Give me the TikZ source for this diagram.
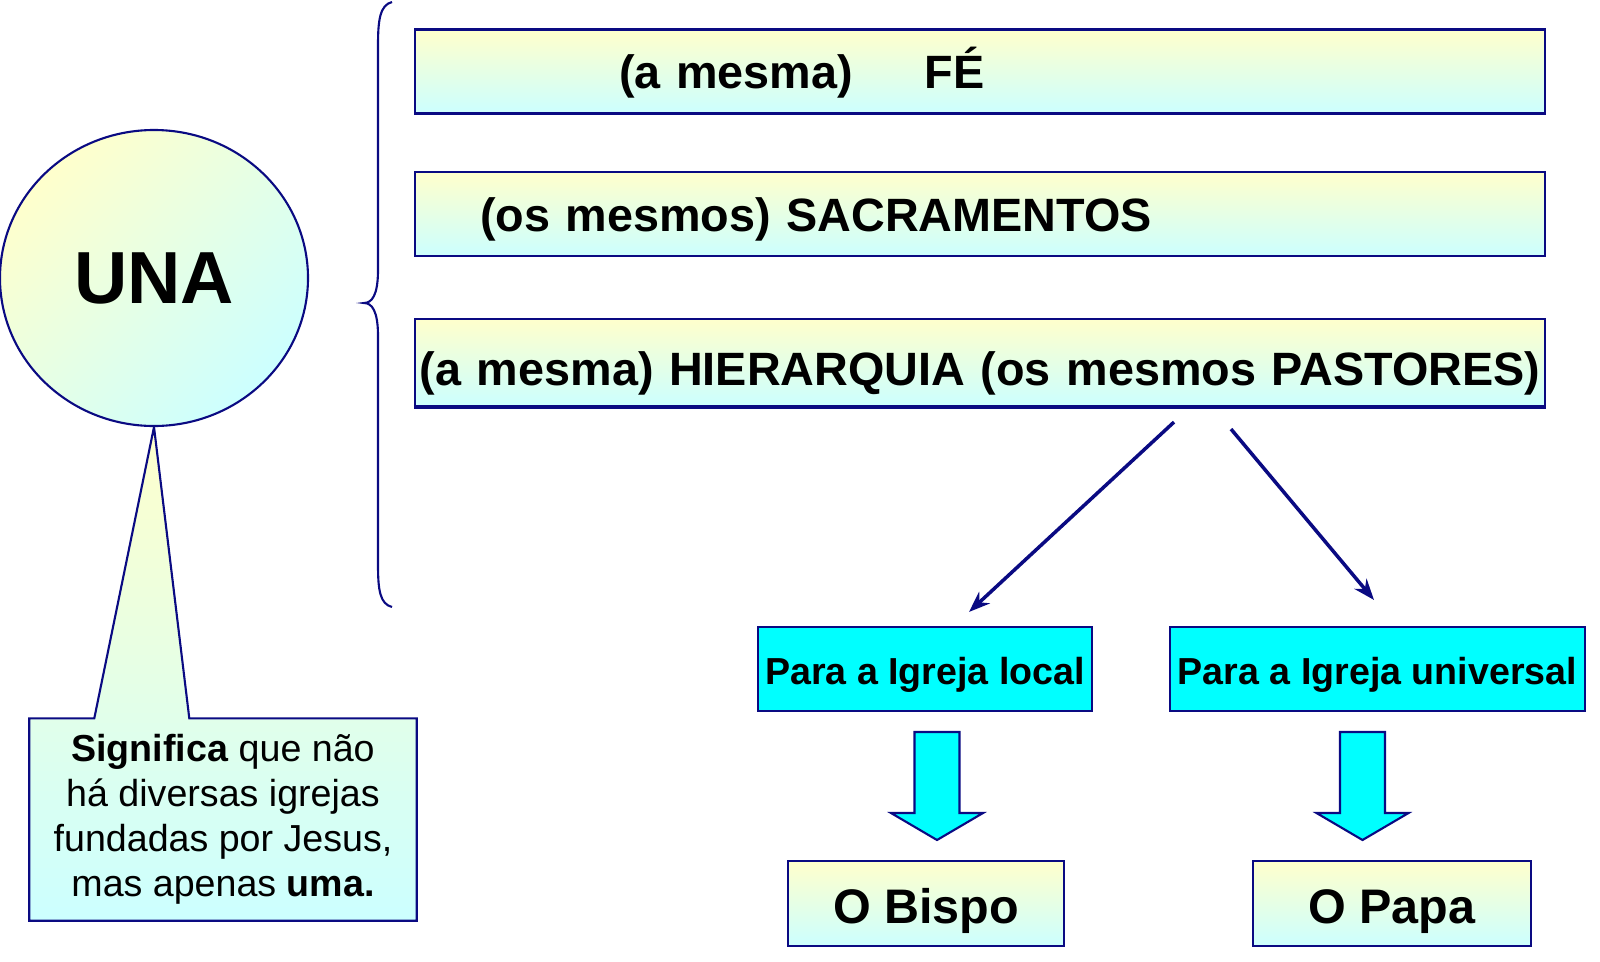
\documentclass[tikz,border=0pt]{standalone}
\usepackage{fontspec}
\setmainfont{Liberation Sans}
\usetikzlibrary{shapes.geometric, arrows.meta, positioning, backgrounds}
\definecolor{marinho}{RGB}{10,10,130}
\definecolor{creme}{RGB}{255,255,204}
\definecolor{agua}{RGB}{204,255,255}
\definecolor{ciano}{RGB}{0,255,255}

\begin{document}
\begin{tikzpicture}[
    faixa/.style={rectangle, draw=marinho, line width=0.6pt,
                  top color=creme, bottom color=agua,
                  minimum width=11.3cm, text width=11.3cm,
                  minimum height=0.84cm, inner sep=0pt, align=left,
                  text height=0.34cm, text depth=0cm,
                  font=\fontsize{13.3}{15}\selectfont\bfseries},
    alvo/.style={rectangle, draw=marinho, line width=0.6pt, fill=ciano,
                 minimum height=0.84cm, inner sep=0pt,
                 text height=0.30cm, text depth=0cm,
                 font=\fontsize{10.7}{12}\selectfont\bfseries},
    cargo/.style={rectangle, draw=marinho, line width=0.6pt,
                  top color=creme, bottom color=agua,
                  minimum height=0.85cm, inner sep=0pt,
                  text height=0.39cm, text depth=0cm,
                  font=\fontsize{13.8}{16}\selectfont\bfseries},
    seta/.style={draw=marinho, line width=1pt, -{Stealth[length=6pt,width=4.5pt]}},
    bloco/.style={draw=marinho, line width=0.6pt, fill=ciano},
    chave/.style={draw=marinho, line width=0.6pt},
  ]
  \useasboundingbox (0,0) rectangle (16,-9.61);

  % circulo e nota
  \node[ellipse, draw=marinho, line width=0.6pt, top color=creme,
        bottom color=agua, shading angle=45, minimum width=3.08cm,
        minimum height=2.96cm, inner sep=0pt,
        font=\fontsize{21}{24}\selectfont\bfseries] (una) at (1.54,-2.78) {UNA};

  \node[align=center, minimum width=3.86cm, minimum height=2.01cm, inner sep=0pt,
        font=\fontsize{10.7}{12.8}\selectfont] (nota) at (2.23,-8.195)
    {\textbf{Significa} que não\\há diversas igrejas\\fundadas por Jesus,\\mas apenas \textbf{uma.}};
  \begin{scope}[on background layer]
    \draw[draw=marinho, line width=0.6pt, top color=creme, bottom color=agua]
      (nota.north west) -- ([xshift=0.65cm]nota.north west) -- (una.south)
      -- ([xshift=1.60cm]nota.north west) -- (nota.north east)
      -- (nota.south east) -- (nota.south west) -- cycle;
  \end{scope}

  % chave
  \draw[chave] (3.92,-0.02) .. controls (3.80,-0.05) and (3.78,-0.2) .. (3.78,-0.45)
    -- (3.78,-2.7) .. controls (3.78,-2.95) and (3.72,-3.03) .. (3.64,-3.03)
    .. controls (3.72,-3.03) and (3.78,-3.11) .. (3.78,-3.36)
    -- (3.78,-5.65) .. controls (3.78,-5.9) and (3.80,-6.04) .. (3.92,-6.07);

  % faixas
  \node[faixa] (fe)  at (9.80,-0.715) {\hspace*{2.04cm}(a mesma)\hspace{0.72cm}FÉ};
  \node[faixa] (sac) at (9.80,-2.14)  {\hspace*{0.65cm}(os mesmos) SACRAMENTOS};
  \node[faixa, align=center, minimum height=0.87cm, text height=0.45cm] (hier) at (9.80,-3.625)
    {(a mesma) HIERARQUIA (os mesmos PASTORES)};
  \draw[marinho, line width=1.2pt] (hier.south west) -- (hier.south east);

  % igreja local / universal
  \node[alvo, minimum width=3.34cm] (local) at (9.25,-6.69)   {Para a Igreja local};
  \node[alvo, minimum width=4.15cm] (univ)  at (13.775,-6.69) {Para a Igreja universal};

  \draw[seta] ([xshift=1.94cm,yshift=-0.15cm]hier.south) -- ([xshift=0.44cm,yshift=0.14cm]local.north);
  \draw[seta] ([xshift=2.51cm,yshift=-0.22cm]hier.south) -- ([xshift=-0.035cm,yshift=0.26cm]univ.north);

  \draw[bloco] (9.145,-7.32) -- ++(0.45,0) -- ++(0,-0.81) -- ++(0.235,0)
    -- ++(-0.46,-0.27) -- ++(-0.46,0.27) -- ++(0.235,0) -- cycle;
  \draw[bloco] (13.40,-7.32) -- ++(0.45,0) -- ++(0,-0.81) -- ++(0.235,0)
    -- ++(-0.46,-0.27) -- ++(-0.46,0.27) -- ++(0.235,0) -- cycle;

  \node[cargo, minimum width=2.76cm] (bispo) at (9.26,-9.035)  {O Bispo};
  \node[cargo, minimum width=2.78cm] (papa)  at (13.92,-9.035) {O Papa};
\end{tikzpicture}
\end{document}
